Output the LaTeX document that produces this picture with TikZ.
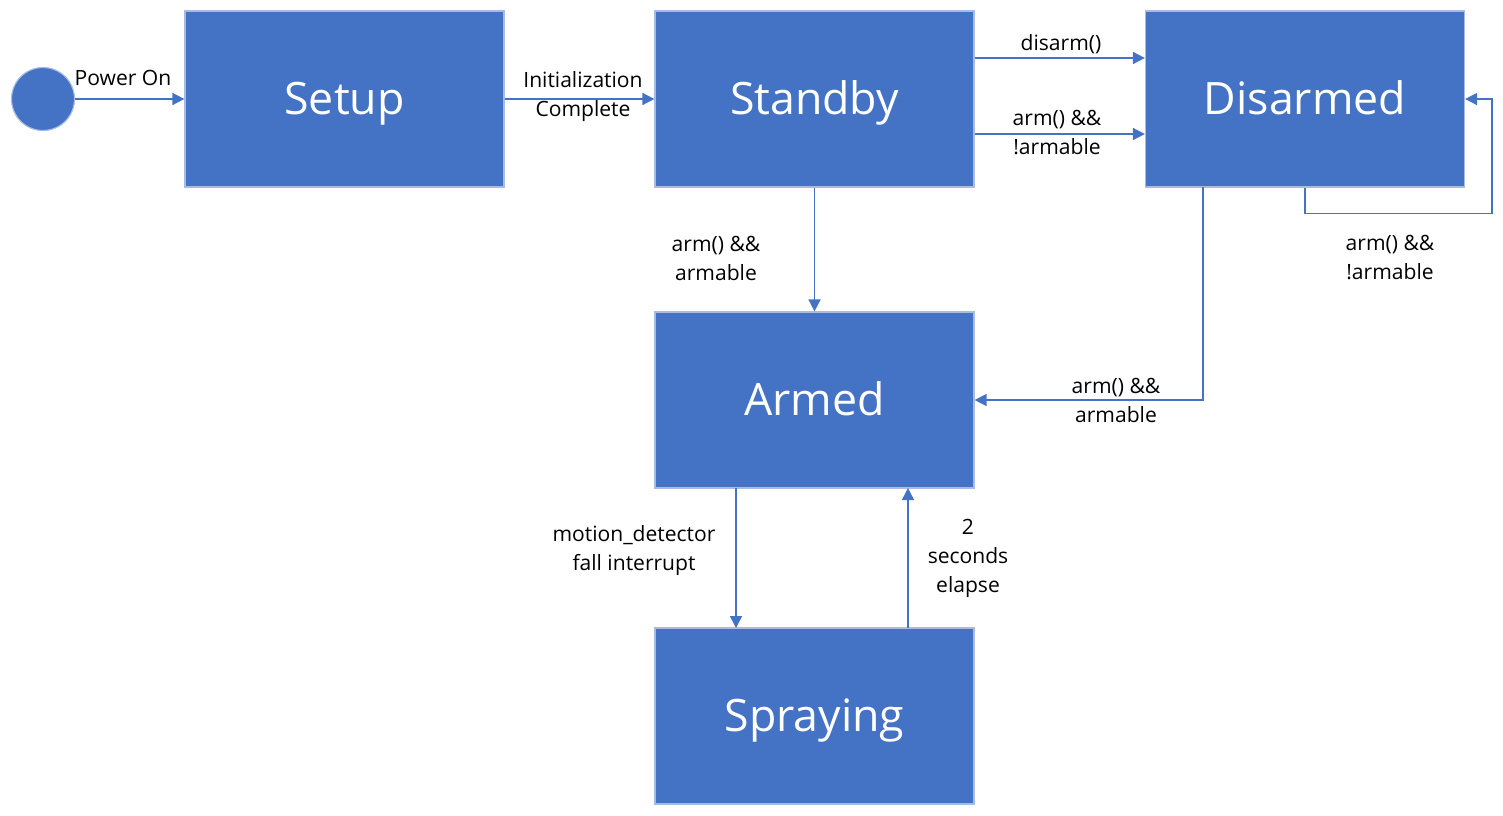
\documentclass[tikz,border=0pt]{standalone}
\usepackage{fontspec}
\setmainfont{Open Sans}
\usetikzlibrary{arrows.meta}
\definecolor{boxblue}{HTML}{4472C4}
\definecolor{boxedge}{HTML}{A9BCDF}
\tikzset{
  state/.style={fill=boxblue, draw=boxedge, line width=0.9pt, minimum width=319*0.75pt, minimum height=176*0.75pt, inner sep=0pt, text height=22.5pt, text depth=0pt, text=white, font=\fontsize{33.5}{40}\selectfont},
  conn/.style={draw=boxblue, line width=1.2pt, -{Triangle[length=9pt,width=9pt]}},
  lbl/.style={font=\fontsize{15.8}{21.75}\selectfont, align=center, inner sep=0pt, text=black}
}
\begin{document}
\begin{tikzpicture}[x=0.75pt,y=-0.75pt]
\useasboundingbox (0,0) rectangle (1503,815);
\node[circle, fill=boxblue, draw=boxedge, line width=0.9pt, minimum size=63*0.75pt, inner sep=0pt] (start) at (43,99) {};
\node[state] (setup) at (344.5,99) {Setup};
\node[state] (standby) at (814.5,99) {Standby};
\node[state] (disarmed) at (1305,99) {Disarmed};
\node[state] (armed) at (814.5,400) {Armed};
\node[state] (spraying) at (814.5,716) {Spraying};

\draw[conn] (start) -- (setup.west);
\node[lbl] (l1) at (123,78) {Power On};

\draw[conn] (setup.east) -- (standby.west);
\node[lbl] (l2) at (583,97) {Initialization\\Complete};

\coordinate (sa) at (standby.east |- 0,58);
\coordinate (da) at (disarmed.west |- 0,58);
\draw[conn] (sa) -- (da);
\node[lbl] (l3) at (1061,44) {disarm()};

\coordinate (sb) at (standby.east |- 0,134);
\coordinate (db) at (disarmed.west |- 0,134);
\draw[conn] (sb) -- (db);
\node[lbl] (l4) at (1057,133) {arm() \&\&\\!armable};

\coordinate (dl) at (disarmed.south);
\coordinate (dr) at (disarmed.east);
\draw[conn] (dl) -- ++(0,26) -| (1492,99) -- (dr);
\node[lbl] (l5) at (1390,258) {arm() \&\&\\!armable};

\draw[conn] (standby.south) -- (armed.north);
\node[lbl] (l6) at (716,258) {arm() \&\&\\armable};

\coordinate (dd) at (1203,187);
\draw[conn] (dd) |- (armed.east);
\node[lbl] (l7) at (1116,400) {arm() \&\&\\armable};

\coordinate (ab) at (736,488);
\coordinate (st) at (736,628);
\draw[conn] (ab) -- (st);
\node[lbl] (l8) at (634,551) {motion\_detector\\fall interrupt};

\coordinate (sp) at (908,628);
\coordinate (aa) at (908,488);
\draw[conn] (sp) -- (aa);
\node[lbl] (l9) at (968,558) {2\\seconds\\elapse};
\end{tikzpicture}
\end{document}
